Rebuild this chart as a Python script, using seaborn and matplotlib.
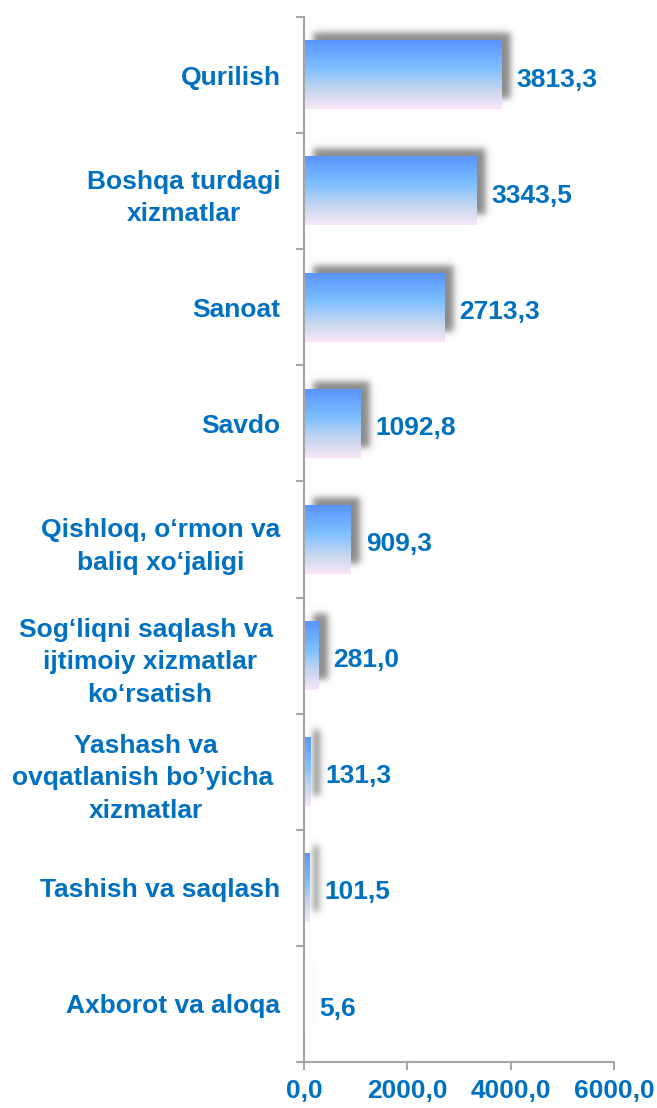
import numpy as np
import pandas as pd
import matplotlib
matplotlib.use("Agg")
import matplotlib.pyplot as plt
from matplotlib.colors import LinearSegmentedColormap
import seaborn as sns

categories = [
    "Qurilish",
    "Boshqa turdagi\nxizmatlar",
    "Sanoat",
    "Savdo",
    "Qishloq, o‘rmon va\nbaliq xo‘jaligi",
    "Sog‘liqni saqlash va \nijtimoiy xizmatlar\nko‘rsatish",
    "Yashash va\novqatlanish bo’yicha \nxizmatlar",
    "Tashish va saqlash",
    "Axborot va aloqa",
]
values = [3813.3, 3343.5, 2713.3, 1092.8, 909.3, 281.0, 131.3, 101.5, 5.6]
x_ticks = [0, 2000, 4000, 6000]

df = pd.DataFrame({"cat": categories, "val": values})

sns.set_theme(style="white")
plt.rcParams["font.family"] = ["Liberation Sans", "DejaVu Sans"]
plt.rcParams["font.weight"] = "bold"

BLUE = "#0070C0"
GRAY = "#A6A6A6"
FS = 19

L, R, B, T = 0.4627, 0.9346, 0.0415, 0.9847
fig = plt.figure(figsize=(6.57, 11.08), dpi=100)
ax = fig.add_axes([L, B, R - L, T - B])

sns.barplot(data=df, x="val", y="cat", orient="h", width=0.59, ax=ax,
            color="#6fa8ff", saturation=1)

xlim = (0, 6000)
ylim = (len(categories) - 0.5, -0.5)

grad_cmap = LinearSegmentedColormap.from_list(
    "g", [(0.0, "#5A94FF"), (0.42, "#80C0FF"), (0.72, "#C4D6EE"), (1.0, "#F8E6F6")])
grad = np.linspace(0, 1, 128).reshape(-1, 1)

# pixel -> data conversions for shadow offset
ax_w_px = (R - L) * 657
ax_h_px = (T - B) * 1108
ux = 6000 / ax_w_px
uy = len(categories) / ax_h_px

for p in list(ax.patches):
    x0, y0 = p.get_x(), p.get_y()
    w, h = p.get_width(), p.get_height()
    p.set_visible(False)
    # shadow (blurred)
    sx0, sx1 = x0 + 9 * ux, x0 + w + 9 * ux
    sy0, sy1 = y0 - 8 * uy, y0 + h - 10 * uy
    pad_x, pad_y = 9 * ux, 9 * uy
    nx, ny = 200, 60
    X = np.linspace(sx0 - pad_x, sx1 + pad_x, nx)
    Y = np.linspace(sy0 - pad_y, sy1 + pad_y, ny)
    sx = 4 * ux
    sy = 4 * uy
    fx = 0.5 * (np.tanh((X - sx0) / sx) - np.tanh((X - sx1) / sx)) if w > 0 else np.zeros(nx)
    fy = 0.5 * (np.tanh((Y - sy0) / sy) - np.tanh((Y - sy1) / sy))
    A = np.outer(fy, fx)
    img = np.zeros((ny, nx, 4))
    img[..., 0:3] = 0.42
    img[..., 3] = 0.8 * A
    ax.imshow(img, extent=(sx0 - pad_x, sx1 + pad_x, sy1 + pad_y, sy0 - pad_y),
              aspect="auto", interpolation="bilinear", zorder=1)
    # gradient bar
    ax.imshow(grad, cmap=grad_cmap, extent=(x0, x0 + w, y0 + h, y0),
              aspect="auto", interpolation="bilinear", zorder=2)

for i, v in enumerate(values):
    ax.text(v + 15 * ux, i + 0.04, f"{v:.1f}".replace(".", ","), color=BLUE,
            fontsize=FS, fontweight="bold", va="center", ha="left", zorder=3)

ax.set_xlim(*xlim)
ax.set_ylim(*ylim)
ax.set_xlabel("")
ax.set_ylabel("")

ax.set_xticks(x_ticks)
ax.set_xticklabels([f"{t:.1f}".replace(".", ",") for t in x_ticks],
                   color=BLUE, fontsize=FS, fontweight="bold")
ax.tick_params(axis="x", which="major", direction="out", length=6, width=1.5,
               color=GRAY, bottom=True, pad=6)

ax.set_yticks(range(len(categories)))
ax.set_yticklabels(categories, color=BLUE, fontsize=FS, fontweight="bold",
                   multialignment="center", linespacing=1.45)
ax.tick_params(axis="y", which="major", length=0, pad=17)
ax.set_yticks(np.arange(len(categories) + 1) - 0.5, minor=True)
ax.tick_params(axis="y", which="minor", direction="out", length=6, width=1.5,
               color=GRAY, left=True)

for s in ["top", "right"]:
    ax.spines[s].set_visible(False)
for s in ["left", "bottom"]:
    ax.spines[s].set_color(GRAY)
    ax.spines[s].set_linewidth(1.5)
ax.grid(False)

fig.savefig("out.png", dpi=100)
